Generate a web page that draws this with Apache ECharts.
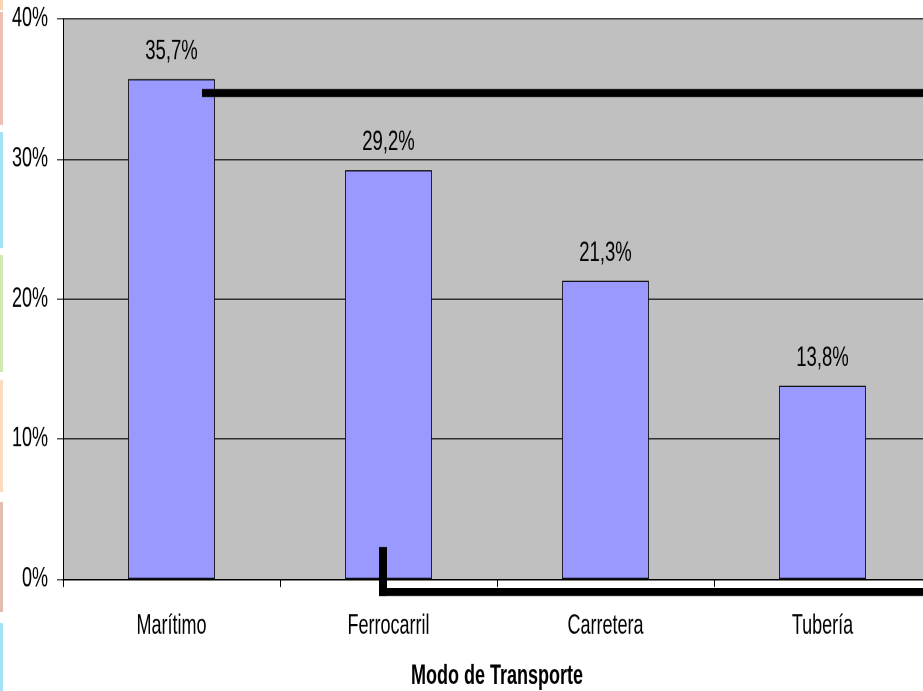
<!DOCTYPE html>
<html>
<head>
<meta charset="utf-8">
<script src="https://cdn.jsdelivr.net/npm/echarts@6/dist/echarts.min.js"></script>
<style>
  html, body { margin: 0; padding: 0; background: #ffffff; width: 923px; height: 691px; overflow: hidden; }
  /* The slide is drawn at a squatter height and stretched vertically, giving the tall narrow lettering */
  #chart {
    width: 923px;
    height: 461px;
    transform: scale(1, 1.5);
    transform-origin: 0 0;
  }
</style>
</head>
<body>
<div id="chart"></div>
<script>
// Freight share by transport mode (percent)
const categories = ['Marítimo', 'Ferrocarril', 'Carretera', 'Tubería'];
const shares = [35.7, 29.2, 21.3, 13.8];
const yTicks = [0, 10, 20, 30, 40];
const axisTitle = 'Modo de Transporte';

const FONT = '"Liberation Sans", Arial, sans-serif';
const SY = 1.5; // vertical stretch applied to the container

const chart = echarts.init(document.getElementById('chart'), null, {
  renderer: 'canvas',
  devicePixelRatio: 2
});

// Faint coloured strip along the left edge of the slide (page pixel ranges)
const edgeStrips = [
  { y0: 0, y1: 10, c: '#f6c9a0' },
  { y0: 12, y1: 125, c: '#e6b2a4' },
  { y0: 132, y1: 248, c: '#8fd9f2' },
  { y0: 255, y1: 372, c: '#c6e39c' },
  { y0: 380, y1: 492, c: '#f8d3ad' },
  { y0: 502, y1: 612, c: '#dcab9c' },
  { y0: 623, y1: 691, c: '#8fd9f2' }
];

const graphics = edgeStrips.map(s => ({
  type: 'rect',
  shape: { x: 0, y: s.y0 / SY, width: 3, height: (s.y1 - s.y0) / SY },
  style: { fill: s.c, opacity: 0.8 },
  silent: true
}));

// Heavy connector lines drawn over the plot (page pixels, converted to chart space)
const connectors = [
  { x: 202, y: 89, w: 721, h: 8 },
  { x: 379, y: 547, w: 8, h: 49 },
  { x: 379, y: 588, w: 544, h: 8 }
];
connectors.forEach(c => graphics.push({
  type: 'rect', z: 100,
  shape: { x: c.x, y: c.y / SY, width: c.w, height: c.h / SY },
  style: { fill: '#000000' }
}));

chart.setOption({
  animation: false,
  backgroundColor: '#ffffff',
  grid: {
    left: 63,
    top: 19 / SY,
    width: 868,
    height: 560 / SY,
    show: true,
    backgroundColor: '#c0c0c0',
    borderWidth: 0,
    containLabel: false,
    outerBoundsMode: 'none'
  },
  xAxis: {
    type: 'category',
    data: categories,
    boundaryGap: true,
    axisLine: { show: true, lineStyle: { color: '#000000', width: 1 } },
    axisTick: { show: true, alignWithLabel: false, length: 8 / SY, lineStyle: { color: '#000000' } },
    axisLabel: {
      color: '#000000', fontFamily: FONT, fontSize: 18, margin: 22.5
    },
    name: axisTitle,
    nameLocation: 'middle',
    nameGap: 56,
    nameTextStyle: { color: '#000000', fontFamily: FONT, fontSize: 18, fontWeight: 'bold' },
    splitLine: { show: false }
  },
  yAxis: {
    type: 'value',
    min: yTicks[0],
    max: yTicks[yTicks.length - 1],
    interval: 10,
    axisLine: { show: true, lineStyle: { color: '#000000', width: 1 } },
    axisTick: { show: true, inside: false, length: 6, lineStyle: { color: '#000000', width: 1 / SY } },
    axisLabel: {
      color: '#000000', fontFamily: FONT, fontSize: 18, margin: 15,
      formatter: v => v + '%'
    },
    splitLine: { show: true, lineStyle: { color: '#000000', width: 1 / SY } }
  },
  series: [{
    type: 'bar',
    data: shares,
    barWidth: '40%',
    itemStyle: { color: '#9999ff', borderColor: '#000000', borderWidth: 0.8 },
    label: {
      show: true,
      position: 'top',
      distance: 9,
      color: '#000000',
      fontFamily: FONT,
      fontSize: 18.5,
      formatter: p => p.value.toFixed(1).replace('.', ',') + '%'
    }
  }],
  graphic: graphics
});
</script>
</body>
</html>
